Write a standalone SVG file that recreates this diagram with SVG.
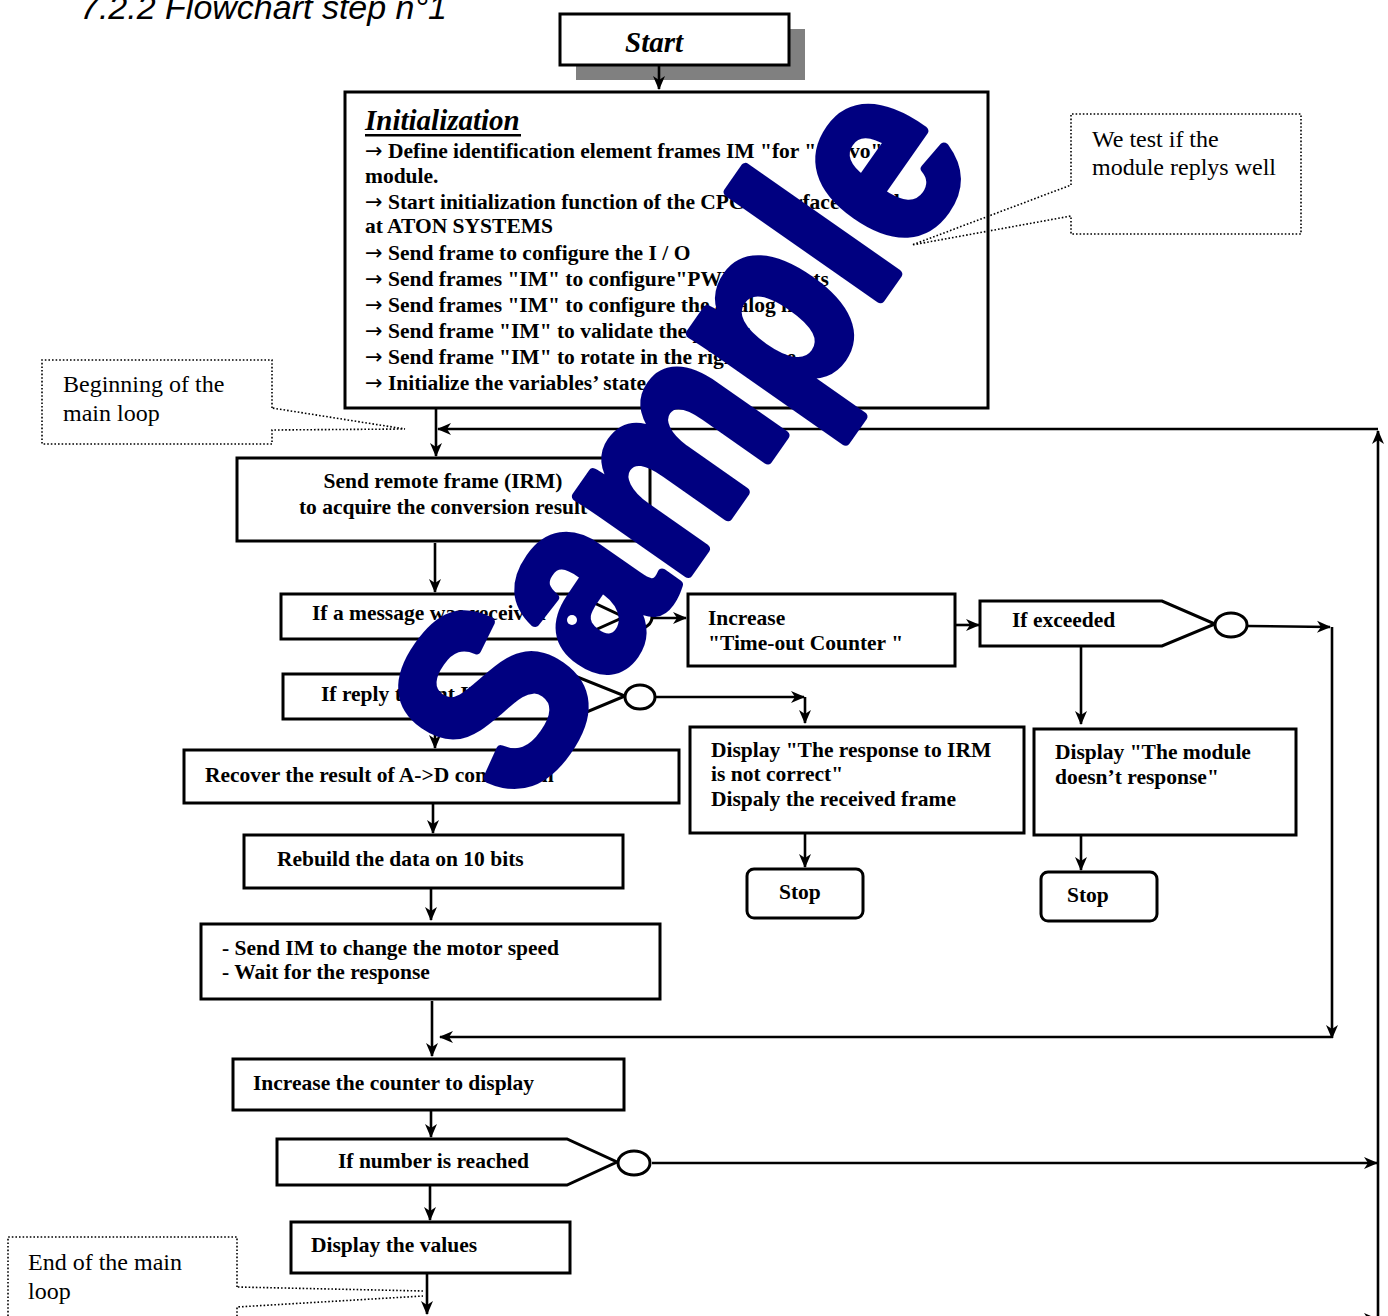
<svg xmlns="http://www.w3.org/2000/svg" width="1388" height="1316" viewBox="0 0 1388 1316">
  <style>
    .box { fill: #fff; stroke: #000; stroke-width: 3; }
    .note { fill: none; stroke: #000; stroke-width: 1.6; stroke-dasharray: 1.6 2; }
    .con { fill: none; stroke: #000; stroke-width: 2.6; }
    .b { font-family: "Liberation Serif", "Times New Roman", serif; font-weight: bold; font-size: 21.5px; fill: #000; }
    .r { font-family: "Liberation Serif", "Times New Roman", serif; font-size: 24px; fill: #000; }
    .bi { font-family: "Liberation Serif", "Times New Roman", serif; font-weight: bold; font-style: italic; font-size: 29px; fill: #000; }
    .ar { font-family: "DejaVu Sans", sans-serif; font-weight: normal; font-size: 21px; }
  </style>
  <defs>
    <marker id="arr" markerUnits="userSpaceOnUse" markerWidth="16" markerHeight="16" refX="14" refY="8" orient="auto">
      <path d="M1,2 L15,8 L1,14 L5,8 Z" fill="#000"/>
    </marker>
  </defs>

  <rect width="1388" height="1316" fill="#fff"/>

  <!-- section heading -->
  <text x="80" y="19" font-family="'Liberation Sans', Arial, sans-serif" font-style="italic" font-size="34" fill="#000">7.2.2  Flowchart step n°1</text>

  <!-- start -->
  <g id="start">
    <rect x="576" y="29" width="229" height="51" fill="#808080"/>
    <rect class="box" x="560" y="14" width="229" height="51"/>
    <text class="bi" x="625" y="52">Start</text>
  </g>

  <!-- initialization -->
  <g id="init">
    <rect class="box" x="345" y="92" width="643" height="316"/>
    <text class="bi" x="365" y="130">Initialization</text>
    <rect x="365" y="134" width="156" height="2.5" fill="#000"/>
    <text class="b" x="365" y="158"><tspan class="ar">→</tspan> Define identification element frames IM "for " servo"</text>
    <text class="b" x="365" y="183">module.</text>
    <text class="b" x="365" y="209"><tspan class="ar">→</tspan> Start initialization function of the CPCI interface board</text>
    <text class="b" x="365" y="233">at ATON SYSTEMS</text>
    <text class="b" x="365" y="260"><tspan class="ar">→</tspan> Send frame to configure the I / O</text>
    <text class="b" x="365" y="286"><tspan class="ar">→</tspan> Send frames "IM" to configure"PWM" outputs</text>
    <text class="b" x="365" y="312"><tspan class="ar">→</tspan> Send frames "IM" to configure the analog inputs</text>
    <text class="b" x="365" y="338"><tspan class="ar">→</tspan> Send frame "IM" to validate the power</text>
    <text class="b" x="365" y="364"><tspan class="ar">→</tspan> Send frame "IM" to rotate in the right sense</text>
    <text class="b" x="365" y="390"><tspan class="ar">→</tspan> Initialize the variables’ state</text>
  </g>

  <g id="send-remote">
    <rect class="box" x="237" y="458" width="413" height="83"/>
    <text class="b" x="443" y="488" text-anchor="middle">Send remote frame (IRM)</text>
    <text class="b" x="443" y="514" text-anchor="middle">to acquire the conversion result</text>
  </g>

  <g id="if-message">
    <path class="box" d="M281,594 H575 L624,617 L575,639 H281 Z"/>
    <ellipse class="box" cx="638" cy="617" rx="14" ry="12"/>
    <text class="b" x="312" y="620">If a message was received</text>
  </g>

  <g id="if-reply">
    <path class="box" d="M283,674 H570 L625,696 L570,719 H283 Z"/>
    <ellipse class="box" cx="640" cy="697" rx="15" ry="12"/>
    <text class="b" x="321" y="701">If reply to sent IRM</text>
  </g>

  <g id="recover">
    <rect class="box" x="184" y="750" width="495" height="53"/>
    <text class="b" x="205" y="782">Recover the result of A-&gt;D conversion</text>
  </g>

  <g id="rebuild">
    <rect class="box" x="244" y="835" width="379" height="53"/>
    <text class="b" x="277" y="866">Rebuild the data on 10 bits</text>
  </g>

  <g id="send-im">
    <rect class="box" x="201" y="924" width="459" height="75"/>
    <text class="b" x="222" y="955">- Send IM to change the motor speed</text>
    <text class="b" x="222" y="979">- Wait for the response</text>
  </g>

  <g id="increase-timeout">
    <rect class="box" x="688" y="594" width="267" height="72"/>
    <text class="b" x="708" y="625">Increase</text>
    <text class="b" x="708" y="650">"Time-out Counter "</text>
  </g>

  <g id="if-exceeded">
    <path class="box" d="M980,601 H1162 L1215,624 L1162,646 H980 Z"/>
    <ellipse class="box" cx="1231" cy="625" rx="16" ry="12"/>
    <text class="b" x="1012" y="627">If exceeded</text>
  </g>

  <g id="display-irm">
    <rect class="box" x="690" y="727" width="334" height="106"/>
    <text class="b" x="711" y="757">Display "The response to IRM</text>
    <text class="b" x="711" y="781">is not correct"</text>
    <text class="b" x="711" y="806">Dispaly the received frame</text>
  </g>

  <g id="display-module">
    <rect class="box" x="1034" y="729" width="262" height="106"/>
    <text class="b" x="1055" y="759">Display "The module</text>
    <text class="b" x="1055" y="784">doesn’t response"</text>
  </g>

  <g id="stop-1">
    <rect class="box" x="747" y="869" width="116" height="49" rx="7"/>
    <text class="b" x="779" y="899">Stop</text>
  </g>

  <g id="stop-2">
    <rect class="box" x="1041" y="872" width="116" height="49" rx="7"/>
    <text class="b" x="1067" y="902">Stop</text>
  </g>

  <g id="increase-counter">
    <rect class="box" x="233" y="1059" width="391" height="51"/>
    <text class="b" x="253" y="1090">Increase the counter to display</text>
  </g>

  <g id="if-number">
    <path class="box" d="M277,1139 H567 L617,1162 L567,1185 H277 Z"/>
    <ellipse class="box" cx="634" cy="1163" rx="16" ry="12"/>
    <text class="b" x="338" y="1168">If number is reached</text>
  </g>

  <g id="display-values">
    <rect class="box" x="291" y="1222" width="279" height="51"/>
    <text class="b" x="311" y="1252">Display the values</text>
  </g>

  <!-- connectors -->
  <g id="connectors" class="con" marker-end="url(#arr)">
    <path d="M659,66 V89"/>
    <path d="M436,409 V456"/>
    <path d="M1378,429 H438"/>
    <path d="M1378,1316 V431"/>
    <path d="M435,543 V592"/>
    <path d="M652,618 H686"/>
    <path d="M435,640 V672"/>
    <path d="M655,697 H804"/>
    <path d="M805,697 V723"/>
    <path d="M435,720 V748"/>
    <path d="M433,804 V833"/>
    <path d="M431,889 V920"/>
    <path d="M432,1001 V1056"/>
    <path d="M1331,1037 H440"/>
    <path d="M956,625 H979"/>
    <path d="M1247,626 L1330,627"/>
    <path d="M1332,627 V1038"/>
    <path d="M1081,647 V724"/>
    <path d="M805,834 V867"/>
    <path d="M1081,836 V870"/>
    <path d="M431,1111 V1137"/>
    <path d="M652,1163 H1377"/>
    <path d="M430,1186 V1220"/>
    <path d="M427,1274 V1314"/>
    <path d="M1350,1319 H1377"/>
  </g>

  <!-- call-out notes -->
  <g id="note-test">
    <path class="note" d="M1071,185 V114 H1301 V234 H1071 V216 L912,245 L1071,185"/>
    <text class="r" x="1092" y="147">We test if the</text>
    <text class="r" x="1092" y="175">module replys well</text>
  </g>
  <g id="note-begin">
    <path class="note" d="M272,408 V360 H42 V444 H272 V430 L405,429 L272,408"/>
    <text class="r" x="63" y="392">Beginning of the</text>
    <text class="r" x="63" y="421">main loop</text>
  </g>
  <g id="note-end">
    <path class="note" d="M237,1287 V1237 H8 V1320 M237,1320 V1307 L423,1296 M423,1291 L237,1287"/>
    <text class="r" x="28" y="1270">End of the main</text>
    <text class="r" x="28" y="1299">loop</text>
  </g>

  <!-- watermark -->
  <g id="watermark">
    <text x="0" y="0" transform="translate(522,810) rotate(-55) scale(0.98,1.12)" font-family="'Liberation Sans', Arial, sans-serif" font-weight="bold" font-size="228" fill="#000080" stroke="#000080" stroke-width="9" stroke-linejoin="round">Sample</text>
    <circle cx="572" cy="620" r="5" fill="#fff"/>
    <circle cx="773" cy="333" r="5" fill="#fff"/>
  </g>
</svg>
